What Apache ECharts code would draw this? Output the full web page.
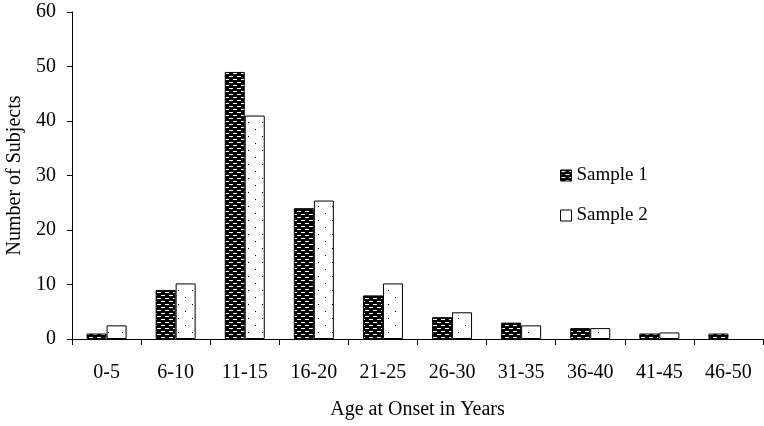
<!DOCTYPE html>
<html><head><meta charset="utf-8">
<script src="https://cdn.jsdelivr.net/npm/echarts@6/dist/echarts.min.js"></script>
<style>html,body{margin:0;padding:0;background:#fff}#c{width:764px;height:426px}</style>
</head><body><div id="c"></div>
<script>
var categories = ['0-5','6-10','11-15','16-20','21-25','26-30','31-35','36-40','41-45','46-50'];
var sample1 = [1, 9, 49, 24, 8, 4, 3, 2, 1, 1];
var sample2 = [2.5, 10.2, 41, 25.4, 10.2, 4.9, 2.5, 2, 1.2, null];
var yTicks = [0, 10, 20, 30, 40, 50, 60];

function brick() {
  var c = document.createElement('canvas'); c.width = 8; c.height = 6;
  var g = c.getContext('2d');
  g.fillStyle = '#000'; g.fillRect(0,0,8,6);
  g.fillStyle = '#fff';
  g.fillRect(1,1,4,1);
  g.fillRect(5,4,3,1); g.fillRect(0,4,1,1);
  return c;
}
function dots() {
  var c = document.createElement('canvas'); c.width = 14; c.height = 14;
  var g = c.getContext('2d');
  g.fillStyle = '#fff'; g.fillRect(0,0,14,14);
  g.fillStyle = '#000';
  g.fillRect(3,3,1,1); g.fillRect(10,10,1,1);
  return c;
}
var font = '"Liberation Serif","Times New Roman",serif';
var chart = echarts.init(document.getElementById('c'));
chart.setOption({
  animation: false,
  backgroundColor: '#fff',
  grid: {left: 72, right: 1, top: 12, bottom: 87, containLabel: false, outerBoundsMode: 'none'},
  legend: {
    orient: 'vertical', left: 555, top: 161, itemGap: 21,
    itemWidth: 11, itemHeight: 11, icon: 'rect',
    textStyle: {fontFamily: font, fontSize: 19, color: '#000'},
    data: [
      {name: 'Sample 1', icon: 'rect', itemStyle: {color: {image: brick(), repeat: 'repeat'}, borderColor: '#000', borderWidth: 1}},
      {name: 'Sample 2', icon: 'rect', itemStyle: {color: '#fff', borderColor: '#000', borderWidth: 1}}
    ]
  },
  xAxis: {
    type: 'category', data: categories,
    name: 'Age at Onset in Years', nameLocation: 'middle', nameGap: 61,
    nameTextStyle: {fontFamily: font, fontSize: 20, color: '#000'},
    axisLine: {lineStyle: {color: '#000', width: 1}},
    axisTick: {show: true, length: 6, lineStyle: {color: '#000'}},
    axisLabel: {fontFamily: font, fontSize: 20, color: '#000', margin: 24}
  },
  yAxis: {
    type: 'value', min: 0, max: 60, interval: 10,
    name: 'Number of Subjects', nameLocation: 'middle', nameGap: 47,
    nameTextStyle: {fontFamily: font, fontSize: 20, color: '#000'},
    axisLine: {show: true, lineStyle: {color: '#000', width: 1}},
    axisTick: {show: true, length: 5, lineStyle: {color: '#000'}},
    splitLine: {show: false},
    axisLabel: {fontFamily: font, fontSize: 20, color: '#000', margin: 16,
      formatter: function (v) { return yTicks.indexOf(v) >= 0 ? String(v) : ''; }}
  },
  series: [
    {name: 'Sample 1', type: 'bar', data: sample1, barWidth: 20, barGap: '0%',
     itemStyle: {color: {image: brick(), repeat: 'repeat'}, borderColor: '#000', borderWidth: 1}},
    {name: 'Sample 2', type: 'bar', data: sample2, barWidth: 20, barGap: '0%',
     itemStyle: {color: {image: dots(), repeat: 'repeat'}, borderColor: '#000', borderWidth: 1}}
  ]
});
</script></body></html>
